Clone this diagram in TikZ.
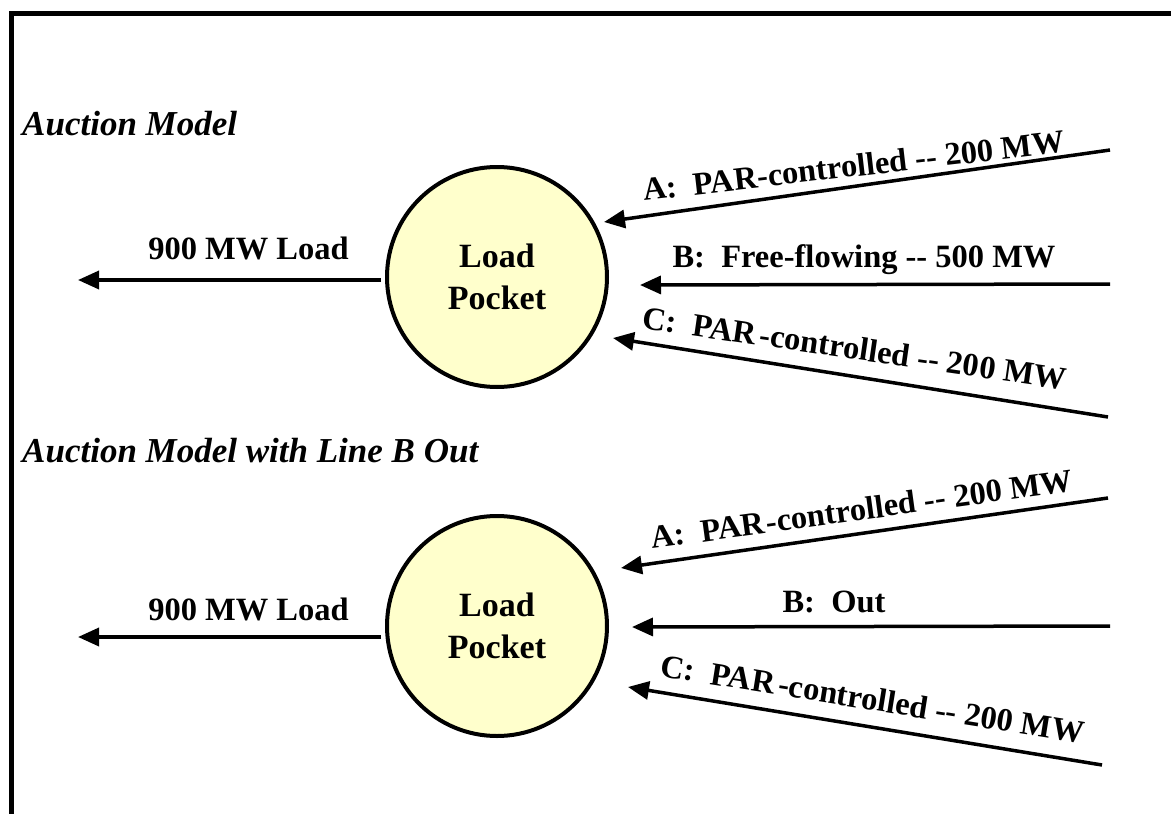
\documentclass[tikz,border=0pt]{standalone}
\usepackage{fontspec}
\setmainfont{Liberation Serif}
\usetikzlibrary{arrows.meta}
\definecolor{pocketfill}{HTML}{FFFFCC}
\begin{document}
\begin{tikzpicture}[x=1pt,y=-1pt,
  flow/.style={line width=3.5pt,-{Triangle[length=21pt,width=18pt]}},
  pocket/.style={circle,draw,line width=4pt,fill=pocketfill,minimum size=220pt,
    inner sep=0pt,align=center,font=\fontsize{34}{42}\selectfont\bfseries},
  lbl/.style={anchor=base,inner sep=0pt,font=\fontsize{32.5}{38}\selectfont\bfseries},
  heading/.style={anchor=base west,inner sep=0pt,font=\fontsize{35}{40}\selectfont\bfseries\itshape}]
  \useasboundingbox (0,0) rectangle (1171,814);
  % frame
  \draw[line width=5pt] (11,816) -- (11,13.5) -- (1173,13.5);

  % ---------- upper panel ----------
  \node[heading] (t1) at (22,135) {Auction Model};
  \node[pocket] (p1) at (497,277) {Load\\Pocket};

  \coordinate (l1s) at (381,280);  \coordinate (l1e) at (78,280);
  \coordinate (a1s) at (1110,150); \coordinate (a1e) at (604,222);
  \coordinate (b1s) at (1110,284); \coordinate (b1e) at (640,285);
  \coordinate (c1s) at (1108,417); \coordinate (c1e) at (613,338);

  \draw[flow] (l1s) -- (l1e);
  \draw[flow] (a1s) -- (a1e);
  \draw[flow] (b1s) -- (b1e);
  \draw[flow] (c1s) -- (c1e);

  \node[lbl] (l1t) at (248.5,259) {900 MW Load};
  \node[lbl,rotate=6.6] (a1t) at (855,176.5) {A:\ \ PAR-controlled -{}- 200 MW};
  \node[lbl] (b1t) at (864,267) {B:\ \ Free-flowing -{}- 500 MW};
  \node[lbl,rotate=-8.25] (c1t) at (853,359) {C:\ \ PAR\kern4pt-controlled -{}- 200 MW};

  % ---------- lower panel ----------
  \node[heading] (t2) at (22,462) {Auction Model with Line B Out};
  \node[pocket] (p2) at (497,626) {Load\\Pocket};

  \coordinate (l2s) at (381,637);  \coordinate (l2e) at (78,637);
  \coordinate (a2s) at (1108,498); \coordinate (a2e) at (621,568);
  \coordinate (b2s) at (1110,626); \coordinate (b2e) at (632,627);
  \coordinate (c2s) at (1102,765); \coordinate (c2e) at (628,687);

  \draw[flow] (l2s) -- (l2e);
  \draw[flow] (a2s) -- (a2e);
  \draw[flow] (b2s) -- (b2e);
  \draw[flow] (c2s) -- (c2e);

  \node[lbl] (l2t) at (248.5,620) {900 MW Load};
  \node[lbl,rotate=7.8] (a2t) at (863,520) {A:\ \ PAR\kern2pt-controlled -{}- 200 MW};
  \node[lbl] (b2t) at (834,612) {B:\ \ Out};
  \node[lbl,rotate=-9.1] (c2t) at (871,710) {C:\ \ PAR\kern4pt-controlled -{}- 200 MW};
\end{tikzpicture}
\end{document}
